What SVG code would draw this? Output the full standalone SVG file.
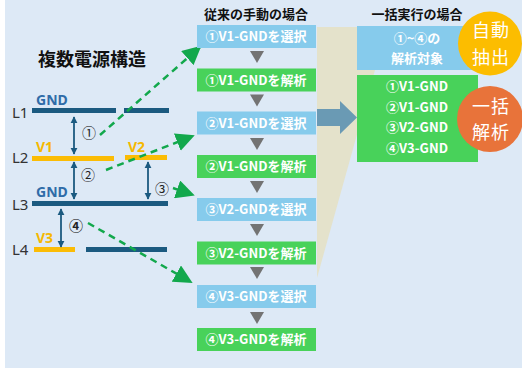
<svg xmlns="http://www.w3.org/2000/svg" width="522" height="368" viewBox="0 0 522 368">
<defs>
<style>
.jp{font-family:"Noto Sans CJK JP","Noto Sans",sans-serif}
.title{font-size:13px;font-weight:bold;fill:#111}
.bt{font-size:13px;font-weight:bold;fill:#fff;text-anchor:middle}
.lv{font-family:"Noto Sans",sans-serif;font-size:15px;fill:#333}
.gnd{font-family:"Noto Sans",sans-serif;font-size:14px;font-weight:bold;fill:#2f6ca8}
.vv{font-family:"Noto Sans",sans-serif;font-size:14px;font-weight:bold;fill:#f5b800}
.num{font-size:14px;fill:#222;text-anchor:middle}
.blue{fill:#86cbec}
.green{fill:#48d25a}
.tri{fill:#737373}
.dark{fill:#1b5a80}
.yel{fill:#fbbc05}
.varr{stroke:#1b5a80;stroke-width:1.8;fill:none;marker-start:url(#ah);marker-end:url(#ah)}
.garr{stroke:#12a84c;stroke-width:2.5;stroke-dasharray:7 5;fill:none;marker-end:url(#gh)}
.ct{font-size:18px;letter-spacing:1px;fill:#fff;text-anchor:middle}
</style>
<marker id="ah" viewBox="0 0 10 10" refX="9" refY="5" markerWidth="4" markerHeight="4" orient="auto-start-reverse" markerUnits="strokeWidth">
<path d="M0,0 L10,5 L0,10 Z" fill="#1b5a80"/>
</marker>
<marker id="gh" viewBox="0 0 10 10" refX="9" refY="5" markerWidth="7.5" markerHeight="7.5" orient="auto" markerUnits="strokeWidth">
<path d="M0,0 L10,5 L0,10 Z" fill="#12a84c"/>
</marker>
</defs>
<rect x="5" y="0" width="517" height="368" fill="#dde9f6"/>
<polygon points="317,27 387,27 317,278" fill="#e4e2cb"/>

<g id="left-structure">
<text class="jp" x="92" y="66" font-size="18" font-weight="bold" fill="#111" text-anchor="middle">複数電源構造</text>
<text class="lv" x="12" y="118">L1</text>
<text class="lv" x="12" y="163">L2</text>
<text class="lv" x="12" y="210">L3</text>
<text class="lv" x="12" y="255">L4</text>
<text class="gnd" x="36" y="105">GND</text>
<text class="vv" x="36" y="152">V1</text>
<text class="vv" x="128" y="152">V2</text>
<text class="gnd" x="36" y="197">GND</text>
<text class="vv" x="36" y="243">V3</text>
<rect class="dark" x="32" y="108" width="84" height="5"/>
<rect class="dark" x="124" y="108" width="45" height="5"/>
<rect class="yel" x="32" y="156" width="82" height="5"/>
<rect class="yel" x="125" y="155" width="42" height="5"/>
<rect class="dark" x="32" y="201" width="136" height="5"/>
<rect class="yel" x="34" y="247" width="41" height="5"/>
<rect class="dark" x="86" y="247" width="81" height="5"/>
<line class="varr" x1="74" y1="117" x2="74" y2="154"/>
<line class="varr" x1="74" y1="162" x2="74" y2="199"/>
<line class="varr" x1="148" y1="162" x2="148" y2="199"/>
<line class="varr" x1="61" y1="209" x2="61" y2="247"/>
<text class="jp num" x="89" y="138">①</text>
<text class="jp num" x="88" y="180">②</text>
<text class="jp num" x="162" y="194">③</text>
<text class="jp num" x="76" y="231" font-weight="bold">④</text>
</g>

<g id="connectors">
<line class="garr" x1="100" y1="135" x2="200" y2="47"/>
<line class="garr" x1="106" y1="170" x2="193" y2="136"/>
<line class="garr" x1="173" y1="188" x2="193" y2="195"/>
<line class="garr" x1="88" y1="223" x2="191" y2="282"/>
<polygon points="317,109 340,109 340,101 357,117.5 340,134 340,126 317,126" fill="#6a9ab4"/>
</g>

<g id="manual-flow">
<text class="jp title" x="256" y="19" text-anchor="middle">従来の手動の場合</text>
<g id="m1"><rect class="blue" x="197" y="25" width="119" height="23"/><text class="jp bt" x="256" y="41">①V1-GNDを選択</text></g>
<polygon class="tri" points="250,51 264,51 257,63"/>
<g id="m2"><rect class="green" x="197" y="68.5" width="119" height="23"/><text class="jp bt" x="256" y="84.5">①V1-GNDを解析</text></g>
<polygon class="tri" points="250,94.5 264,94.5 257,106.5"/>
<g id="m3"><rect class="blue" x="197" y="111.5" width="119" height="23"/><text class="jp bt" x="256" y="127.5">②V1-GNDを選択</text></g>
<polygon class="tri" points="250,138 264,138 257,150"/>
<g id="m4"><rect class="green" x="197" y="155" width="119" height="23"/><text class="jp bt" x="256" y="171">②V1-GNDを解析</text></g>
<polygon class="tri" points="250,181 264,181 257,193"/>
<g id="m5"><rect class="blue" x="197" y="198" width="119" height="23"/><text class="jp bt" x="256" y="214">③V2-GNDを選択</text></g>
<polygon class="tri" points="250,224 264,224 257,236"/>
<g id="m6"><rect class="green" x="197" y="241.5" width="119" height="23"/><text class="jp bt" x="256" y="257.5">③V2-GNDを解析</text></g>
<polygon class="tri" points="250,267 264,267 257,279"/>
<g id="m7"><rect class="blue" x="197" y="285" width="119" height="23"/><text class="jp bt" x="256" y="301">④V3-GNDを選択</text></g>
<polygon class="tri" points="250,312 264,312 257,324"/>
<g id="m8"><rect class="green" x="197" y="328" width="119" height="23"/><text class="jp bt" x="256" y="344">④V3-GNDを解析</text></g>
</g>

<g id="batch-flow">
<text class="jp title" x="417" y="19" text-anchor="middle" font-size="13.5">一括実行の場合</text>
<g id="b1"><rect class="blue" x="357" y="26" width="115" height="44"/>
<text class="jp bt" x="417" y="43">①~④の</text>
<text class="jp bt" x="417" y="63">解析対象</text></g>
<g id="b2"><rect class="green" x="357" y="75" width="121" height="87"/>
<text class="jp bt" x="417" y="91">①V1-GND</text>
<text class="jp bt" x="417" y="112">②V1-GND</text>
<text class="jp bt" x="417" y="132">③V2-GND</text>
<text class="jp bt" x="417" y="153">④V3-GND</text></g>
<g id="c1"><circle cx="490" cy="43.5" r="32" fill="#fcbd00"/>
<text class="jp ct" x="491" y="37">自動</text>
<text class="jp ct" x="491" y="63.5">抽出</text></g>
<g id="c2"><circle cx="490" cy="119" r="33" fill="#e8733a"/>
<text class="jp ct" x="491" y="112.5">一括</text>
<text class="jp ct" x="491" y="139">解析</text></g>
</g>
</svg>
